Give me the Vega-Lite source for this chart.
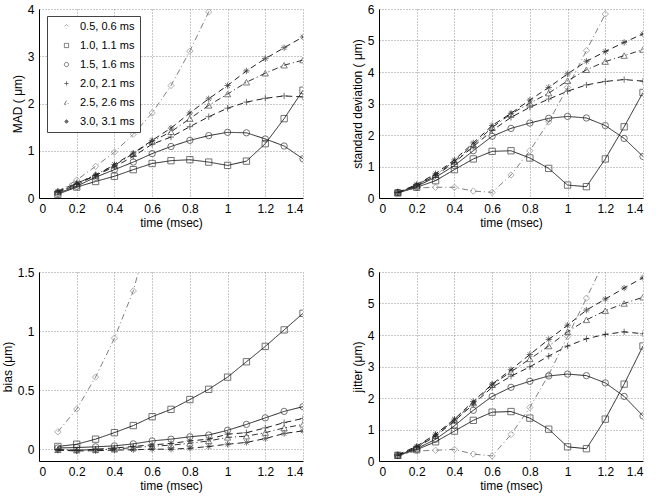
{
  "$schema": "https://vega.github.io/schema/vega-lite/v6.json",
  "background": "white",
  "padding": {"left": 1, "top": 3, "right": 5, "bottom": 5},
  "columns": 2,
  "spacing": {"row": 74, "column": 76},
  "bounds": "flush",
  "resolve": {"legend": {"color": "independent", "shape": "independent", "strokeDash": "independent"}},
  "config": {
    "font": "Liberation Sans",
    "view": {"stroke": null},
    "axis": {
      "labelFont": "Liberation Sans", "titleFont": "Liberation Sans",
      "labelFontSize": 12, "titleFontSize": 12, "titleFontWeight": "normal",
      "labelColor": "#000", "titleColor": "#000",
      "domainColor": "#000", "domainWidth": 1,
      "gridColor": "#777", "gridDash": [1, 2], "gridOpacity": 1, "gridWidth": 0.8,
      "ticks": false, "tickSize": 0, "labelPadding": 5, "titlePadding": 3
    }
  },
  "datasets": {
    "d": [
      {"p":"MAD","s":"0.5, 0.6 ms","t":0.1,"v":0.14},{"p":"MAD","s":"0.5, 0.6 ms","t":0.2,"v":0.38},{"p":"MAD","s":"0.5, 0.6 ms","t":0.3,"v":0.67},{"p":"MAD","s":"0.5, 0.6 ms","t":0.4,"v":0.97},{"p":"MAD","s":"0.5, 0.6 ms","t":0.5,"v":1.35},{"p":"MAD","s":"0.5, 0.6 ms","t":0.6,"v":1.80},{"p":"MAD","s":"0.5, 0.6 ms","t":0.7,"v":2.38},{"p":"MAD","s":"0.5, 0.6 ms","t":0.8,"v":3.11},{"p":"MAD","s":"0.5, 0.6 ms","t":0.9,"v":3.94},{"p":"MAD","s":"0.5, 0.6 ms","t":1.0,"v":4.9},
      {"p":"MAD","s":"1.0, 1.1 ms","t":0.1,"v":0.08},{"p":"MAD","s":"1.0, 1.1 ms","t":0.2,"v":0.23},{"p":"MAD","s":"1.0, 1.1 ms","t":0.3,"v":0.35},{"p":"MAD","s":"1.0, 1.1 ms","t":0.4,"v":0.46},{"p":"MAD","s":"1.0, 1.1 ms","t":0.5,"v":0.60},{"p":"MAD","s":"1.0, 1.1 ms","t":0.6,"v":0.73},{"p":"MAD","s":"1.0, 1.1 ms","t":0.7,"v":0.79},{"p":"MAD","s":"1.0, 1.1 ms","t":0.8,"v":0.81},{"p":"MAD","s":"1.0, 1.1 ms","t":0.9,"v":0.76},{"p":"MAD","s":"1.0, 1.1 ms","t":1.0,"v":0.69},{"p":"MAD","s":"1.0, 1.1 ms","t":1.1,"v":0.78},{"p":"MAD","s":"1.0, 1.1 ms","t":1.2,"v":1.15},{"p":"MAD","s":"1.0, 1.1 ms","t":1.3,"v":1.68},{"p":"MAD","s":"1.0, 1.1 ms","t":1.4,"v":2.28},
      {"p":"MAD","s":"1.5, 1.6 ms","t":0.1,"v":0.10},{"p":"MAD","s":"1.5, 1.6 ms","t":0.2,"v":0.25},{"p":"MAD","s":"1.5, 1.6 ms","t":0.3,"v":0.44},{"p":"MAD","s":"1.5, 1.6 ms","t":0.4,"v":0.60},{"p":"MAD","s":"1.5, 1.6 ms","t":0.5,"v":0.76},{"p":"MAD","s":"1.5, 1.6 ms","t":0.6,"v":0.94},{"p":"MAD","s":"1.5, 1.6 ms","t":0.7,"v":1.09},{"p":"MAD","s":"1.5, 1.6 ms","t":0.8,"v":1.22},{"p":"MAD","s":"1.5, 1.6 ms","t":0.9,"v":1.32},{"p":"MAD","s":"1.5, 1.6 ms","t":1.0,"v":1.39},{"p":"MAD","s":"1.5, 1.6 ms","t":1.1,"v":1.38},{"p":"MAD","s":"1.5, 1.6 ms","t":1.2,"v":1.25},{"p":"MAD","s":"1.5, 1.6 ms","t":1.3,"v":1.10},{"p":"MAD","s":"1.5, 1.6 ms","t":1.4,"v":0.83},
      {"p":"MAD","s":"2.0, 2.1 ms","t":0.1,"v":0.12},{"p":"MAD","s":"2.0, 2.1 ms","t":0.2,"v":0.28},{"p":"MAD","s":"2.0, 2.1 ms","t":0.3,"v":0.48},{"p":"MAD","s":"2.0, 2.1 ms","t":0.4,"v":0.66},{"p":"MAD","s":"2.0, 2.1 ms","t":0.5,"v":0.88},{"p":"MAD","s":"2.0, 2.1 ms","t":0.6,"v":1.14},{"p":"MAD","s":"2.0, 2.1 ms","t":0.7,"v":1.29},{"p":"MAD","s":"2.0, 2.1 ms","t":0.8,"v":1.51},{"p":"MAD","s":"2.0, 2.1 ms","t":0.9,"v":1.72},{"p":"MAD","s":"2.0, 2.1 ms","t":1.0,"v":1.90},{"p":"MAD","s":"2.0, 2.1 ms","t":1.1,"v":2.03},{"p":"MAD","s":"2.0, 2.1 ms","t":1.2,"v":2.11},{"p":"MAD","s":"2.0, 2.1 ms","t":1.3,"v":2.16},{"p":"MAD","s":"2.0, 2.1 ms","t":1.4,"v":2.14},
      {"p":"MAD","s":"2.5, 2.6 ms","t":0.1,"v":0.13},{"p":"MAD","s":"2.5, 2.6 ms","t":0.2,"v":0.30},{"p":"MAD","s":"2.5, 2.6 ms","t":0.3,"v":0.50},{"p":"MAD","s":"2.5, 2.6 ms","t":0.4,"v":0.69},{"p":"MAD","s":"2.5, 2.6 ms","t":0.5,"v":0.94},{"p":"MAD","s":"2.5, 2.6 ms","t":0.6,"v":1.20},{"p":"MAD","s":"2.5, 2.6 ms","t":0.7,"v":1.40},{"p":"MAD","s":"2.5, 2.6 ms","t":0.8,"v":1.68},{"p":"MAD","s":"2.5, 2.6 ms","t":0.9,"v":1.96},{"p":"MAD","s":"2.5, 2.6 ms","t":1.0,"v":2.20},{"p":"MAD","s":"2.5, 2.6 ms","t":1.1,"v":2.45},{"p":"MAD","s":"2.5, 2.6 ms","t":1.2,"v":2.64},{"p":"MAD","s":"2.5, 2.6 ms","t":1.3,"v":2.81},{"p":"MAD","s":"2.5, 2.6 ms","t":1.4,"v":2.92},
      {"p":"MAD","s":"3.0, 3.1 ms","t":0.1,"v":0.14},{"p":"MAD","s":"3.0, 3.1 ms","t":0.2,"v":0.32},{"p":"MAD","s":"3.0, 3.1 ms","t":0.3,"v":0.47},{"p":"MAD","s":"3.0, 3.1 ms","t":0.4,"v":0.71},{"p":"MAD","s":"3.0, 3.1 ms","t":0.5,"v":0.95},{"p":"MAD","s":"3.0, 3.1 ms","t":0.6,"v":1.22},{"p":"MAD","s":"3.0, 3.1 ms","t":0.7,"v":1.48},{"p":"MAD","s":"3.0, 3.1 ms","t":0.8,"v":1.80},{"p":"MAD","s":"3.0, 3.1 ms","t":0.9,"v":2.10},{"p":"MAD","s":"3.0, 3.1 ms","t":1.0,"v":2.38},{"p":"MAD","s":"3.0, 3.1 ms","t":1.1,"v":2.69},{"p":"MAD","s":"3.0, 3.1 ms","t":1.2,"v":2.95},{"p":"MAD","s":"3.0, 3.1 ms","t":1.3,"v":3.18},{"p":"MAD","s":"3.0, 3.1 ms","t":1.4,"v":3.41},

      {"p":"SD","s":"0.5, 0.6 ms","t":0.1,"v":0.18},{"p":"SD","s":"0.5, 0.6 ms","t":0.2,"v":0.32},{"p":"SD","s":"0.5, 0.6 ms","t":0.3,"v":0.34},{"p":"SD","s":"0.5, 0.6 ms","t":0.4,"v":0.34},{"p":"SD","s":"0.5, 0.6 ms","t":0.5,"v":0.22},{"p":"SD","s":"0.5, 0.6 ms","t":0.6,"v":0.18},{"p":"SD","s":"0.5, 0.6 ms","t":0.7,"v":0.73},{"p":"SD","s":"0.5, 0.6 ms","t":0.8,"v":1.50},{"p":"SD","s":"0.5, 0.6 ms","t":0.9,"v":2.42},{"p":"SD","s":"0.5, 0.6 ms","t":1.0,"v":3.51},{"p":"SD","s":"0.5, 0.6 ms","t":1.1,"v":4.68},{"p":"SD","s":"0.5, 0.6 ms","t":1.2,"v":5.84},
      {"p":"SD","s":"1.0, 1.1 ms","t":0.1,"v":0.16},{"p":"SD","s":"1.0, 1.1 ms","t":0.2,"v":0.34},{"p":"SD","s":"1.0, 1.1 ms","t":0.3,"v":0.55},{"p":"SD","s":"1.0, 1.1 ms","t":0.4,"v":0.90},{"p":"SD","s":"1.0, 1.1 ms","t":0.5,"v":1.24},{"p":"SD","s":"1.0, 1.1 ms","t":0.6,"v":1.48},{"p":"SD","s":"1.0, 1.1 ms","t":0.7,"v":1.50},{"p":"SD","s":"1.0, 1.1 ms","t":0.8,"v":1.27},{"p":"SD","s":"1.0, 1.1 ms","t":0.9,"v":0.94},{"p":"SD","s":"1.0, 1.1 ms","t":1.0,"v":0.41},{"p":"SD","s":"1.0, 1.1 ms","t":1.1,"v":0.36},{"p":"SD","s":"1.0, 1.1 ms","t":1.2,"v":1.24},{"p":"SD","s":"1.0, 1.1 ms","t":1.3,"v":2.26},{"p":"SD","s":"1.0, 1.1 ms","t":1.4,"v":3.35},
      {"p":"SD","s":"1.5, 1.6 ms","t":0.1,"v":0.18},{"p":"SD","s":"1.5, 1.6 ms","t":0.2,"v":0.37},{"p":"SD","s":"1.5, 1.6 ms","t":0.3,"v":0.66},{"p":"SD","s":"1.5, 1.6 ms","t":0.4,"v":1.03},{"p":"SD","s":"1.5, 1.6 ms","t":0.5,"v":1.50},{"p":"SD","s":"1.5, 1.6 ms","t":0.6,"v":1.96},{"p":"SD","s":"1.5, 1.6 ms","t":0.7,"v":2.21},{"p":"SD","s":"1.5, 1.6 ms","t":0.8,"v":2.38},{"p":"SD","s":"1.5, 1.6 ms","t":0.9,"v":2.53},{"p":"SD","s":"1.5, 1.6 ms","t":1.0,"v":2.59},{"p":"SD","s":"1.5, 1.6 ms","t":1.1,"v":2.54},{"p":"SD","s":"1.5, 1.6 ms","t":1.2,"v":2.30},{"p":"SD","s":"1.5, 1.6 ms","t":1.3,"v":1.89},{"p":"SD","s":"1.5, 1.6 ms","t":1.4,"v":1.32},
      {"p":"SD","s":"2.0, 2.1 ms","t":0.1,"v":0.18},{"p":"SD","s":"2.0, 2.1 ms","t":0.2,"v":0.39},{"p":"SD","s":"2.0, 2.1 ms","t":0.3,"v":0.71},{"p":"SD","s":"2.0, 2.1 ms","t":0.4,"v":1.13},{"p":"SD","s":"2.0, 2.1 ms","t":0.5,"v":1.63},{"p":"SD","s":"2.0, 2.1 ms","t":0.6,"v":2.14},{"p":"SD","s":"2.0, 2.1 ms","t":0.7,"v":2.56},{"p":"SD","s":"2.0, 2.1 ms","t":0.8,"v":2.88},{"p":"SD","s":"2.0, 2.1 ms","t":0.9,"v":3.14},{"p":"SD","s":"2.0, 2.1 ms","t":1.0,"v":3.39},{"p":"SD","s":"2.0, 2.1 ms","t":1.1,"v":3.59},{"p":"SD","s":"2.0, 2.1 ms","t":1.2,"v":3.70},{"p":"SD","s":"2.0, 2.1 ms","t":1.3,"v":3.76},{"p":"SD","s":"2.0, 2.1 ms","t":1.4,"v":3.71},
      {"p":"SD","s":"2.5, 2.6 ms","t":0.1,"v":0.17},{"p":"SD","s":"2.5, 2.6 ms","t":0.2,"v":0.41},{"p":"SD","s":"2.5, 2.6 ms","t":0.3,"v":0.74},{"p":"SD","s":"2.5, 2.6 ms","t":0.4,"v":1.16},{"p":"SD","s":"2.5, 2.6 ms","t":0.5,"v":1.69},{"p":"SD","s":"2.5, 2.6 ms","t":0.6,"v":2.24},{"p":"SD","s":"2.5, 2.6 ms","t":0.7,"v":2.67},{"p":"SD","s":"2.5, 2.6 ms","t":0.8,"v":3.01},{"p":"SD","s":"2.5, 2.6 ms","t":0.9,"v":3.33},{"p":"SD","s":"2.5, 2.6 ms","t":1.0,"v":3.72},{"p":"SD","s":"2.5, 2.6 ms","t":1.1,"v":4.07},{"p":"SD","s":"2.5, 2.6 ms","t":1.2,"v":4.33},{"p":"SD","s":"2.5, 2.6 ms","t":1.3,"v":4.52},{"p":"SD","s":"2.5, 2.6 ms","t":1.4,"v":4.71},
      {"p":"SD","s":"3.0, 3.1 ms","t":0.1,"v":0.18},{"p":"SD","s":"3.0, 3.1 ms","t":0.2,"v":0.43},{"p":"SD","s":"3.0, 3.1 ms","t":0.3,"v":0.77},{"p":"SD","s":"3.0, 3.1 ms","t":0.4,"v":1.21},{"p":"SD","s":"3.0, 3.1 ms","t":0.5,"v":1.75},{"p":"SD","s":"3.0, 3.1 ms","t":0.6,"v":2.30},{"p":"SD","s":"3.0, 3.1 ms","t":0.7,"v":2.69},{"p":"SD","s":"3.0, 3.1 ms","t":0.8,"v":3.11},{"p":"SD","s":"3.0, 3.1 ms","t":0.9,"v":3.51},{"p":"SD","s":"3.0, 3.1 ms","t":1.0,"v":3.94},{"p":"SD","s":"3.0, 3.1 ms","t":1.1,"v":4.34},{"p":"SD","s":"3.0, 3.1 ms","t":1.2,"v":4.65},{"p":"SD","s":"3.0, 3.1 ms","t":1.3,"v":4.94},{"p":"SD","s":"3.0, 3.1 ms","t":1.4,"v":5.21},

      {"p":"bias","s":"0.5, 0.6 ms","t":0.1,"v":0.147},{"p":"bias","s":"0.5, 0.6 ms","t":0.2,"v":0.34},{"p":"bias","s":"0.5, 0.6 ms","t":0.3,"v":0.61},{"p":"bias","s":"0.5, 0.6 ms","t":0.4,"v":0.94},{"p":"bias","s":"0.5, 0.6 ms","t":0.5,"v":1.34},{"p":"bias","s":"0.5, 0.6 ms","t":0.6,"v":1.93},
      {"p":"bias","s":"1.0, 1.1 ms","t":0.1,"v":0.023},{"p":"bias","s":"1.0, 1.1 ms","t":0.2,"v":0.042},{"p":"bias","s":"1.0, 1.1 ms","t":0.3,"v":0.085},{"p":"bias","s":"1.0, 1.1 ms","t":0.4,"v":0.14},{"p":"bias","s":"1.0, 1.1 ms","t":0.5,"v":0.20},{"p":"bias","s":"1.0, 1.1 ms","t":0.6,"v":0.275},{"p":"bias","s":"1.0, 1.1 ms","t":0.7,"v":0.337},{"p":"bias","s":"1.0, 1.1 ms","t":0.8,"v":0.42},{"p":"bias","s":"1.0, 1.1 ms","t":0.9,"v":0.507},{"p":"bias","s":"1.0, 1.1 ms","t":1.0,"v":0.61},{"p":"bias","s":"1.0, 1.1 ms","t":1.1,"v":0.74},{"p":"bias","s":"1.0, 1.1 ms","t":1.2,"v":0.87},{"p":"bias","s":"1.0, 1.1 ms","t":1.3,"v":1.01},{"p":"bias","s":"1.0, 1.1 ms","t":1.4,"v":1.15},
      {"p":"bias","s":"1.5, 1.6 ms","t":0.1,"v":0.01},{"p":"bias","s":"1.5, 1.6 ms","t":0.2,"v":0.014},{"p":"bias","s":"1.5, 1.6 ms","t":0.3,"v":0.02},{"p":"bias","s":"1.5, 1.6 ms","t":0.4,"v":0.028},{"p":"bias","s":"1.5, 1.6 ms","t":0.5,"v":0.045},{"p":"bias","s":"1.5, 1.6 ms","t":0.6,"v":0.07},{"p":"bias","s":"1.5, 1.6 ms","t":0.7,"v":0.085},{"p":"bias","s":"1.5, 1.6 ms","t":0.8,"v":0.105},{"p":"bias","s":"1.5, 1.6 ms","t":0.9,"v":0.12},{"p":"bias","s":"1.5, 1.6 ms","t":1.0,"v":0.16},{"p":"bias","s":"1.5, 1.6 ms","t":1.1,"v":0.21},{"p":"bias","s":"1.5, 1.6 ms","t":1.2,"v":0.265},{"p":"bias","s":"1.5, 1.6 ms","t":1.3,"v":0.32},{"p":"bias","s":"1.5, 1.6 ms","t":1.4,"v":0.36},
      {"p":"bias","s":"2.0, 2.1 ms","t":0.1,"v":-0.005},{"p":"bias","s":"2.0, 2.1 ms","t":0.2,"v":-0.01},{"p":"bias","s":"2.0, 2.1 ms","t":0.3,"v":0.0},{"p":"bias","s":"2.0, 2.1 ms","t":0.4,"v":0.01},{"p":"bias","s":"2.0, 2.1 ms","t":0.5,"v":0.023},{"p":"bias","s":"2.0, 2.1 ms","t":0.6,"v":0.037},{"p":"bias","s":"2.0, 2.1 ms","t":0.7,"v":0.048},{"p":"bias","s":"2.0, 2.1 ms","t":0.8,"v":0.07},{"p":"bias","s":"2.0, 2.1 ms","t":0.9,"v":0.085},{"p":"bias","s":"2.0, 2.1 ms","t":1.0,"v":0.127},{"p":"bias","s":"2.0, 2.1 ms","t":1.1,"v":0.14},{"p":"bias","s":"2.0, 2.1 ms","t":1.2,"v":0.18},{"p":"bias","s":"2.0, 2.1 ms","t":1.3,"v":0.225},{"p":"bias","s":"2.0, 2.1 ms","t":1.4,"v":0.26},
      {"p":"bias","s":"2.5, 2.6 ms","t":0.1,"v":-0.005},{"p":"bias","s":"2.5, 2.6 ms","t":0.2,"v":-0.008},{"p":"bias","s":"2.5, 2.6 ms","t":0.3,"v":-0.005},{"p":"bias","s":"2.5, 2.6 ms","t":0.4,"v":0.0},{"p":"bias","s":"2.5, 2.6 ms","t":0.5,"v":0.014},{"p":"bias","s":"2.5, 2.6 ms","t":0.6,"v":0.025},{"p":"bias","s":"2.5, 2.6 ms","t":0.7,"v":0.034},{"p":"bias","s":"2.5, 2.6 ms","t":0.8,"v":0.05},{"p":"bias","s":"2.5, 2.6 ms","t":0.9,"v":0.07},{"p":"bias","s":"2.5, 2.6 ms","t":1.0,"v":0.10},{"p":"bias","s":"2.5, 2.6 ms","t":1.1,"v":0.11},{"p":"bias","s":"2.5, 2.6 ms","t":1.2,"v":0.14},{"p":"bias","s":"2.5, 2.6 ms","t":1.3,"v":0.18},{"p":"bias","s":"2.5, 2.6 ms","t":1.4,"v":0.21},
      {"p":"bias","s":"3.0, 3.1 ms","t":0.1,"v":-0.008},{"p":"bias","s":"3.0, 3.1 ms","t":0.2,"v":-0.015},{"p":"bias","s":"3.0, 3.1 ms","t":0.3,"v":-0.013},{"p":"bias","s":"3.0, 3.1 ms","t":0.4,"v":-0.008},{"p":"bias","s":"3.0, 3.1 ms","t":0.5,"v":-0.005},{"p":"bias","s":"3.0, 3.1 ms","t":0.6,"v":0.0},{"p":"bias","s":"3.0, 3.1 ms","t":0.7,"v":0.0},{"p":"bias","s":"3.0, 3.1 ms","t":0.8,"v":0.008},{"p":"bias","s":"3.0, 3.1 ms","t":0.9,"v":0.023},{"p":"bias","s":"3.0, 3.1 ms","t":1.0,"v":0.042},{"p":"bias","s":"3.0, 3.1 ms","t":1.1,"v":0.057},{"p":"bias","s":"3.0, 3.1 ms","t":1.2,"v":0.09},{"p":"bias","s":"3.0, 3.1 ms","t":1.3,"v":0.133},{"p":"bias","s":"3.0, 3.1 ms","t":1.4,"v":0.155},

      {"p":"jitter","s":"0.5, 0.6 ms","t":0.1,"v":0.16},{"p":"jitter","s":"0.5, 0.6 ms","t":0.2,"v":0.32},{"p":"jitter","s":"0.5, 0.6 ms","t":0.3,"v":0.34},{"p":"jitter","s":"0.5, 0.6 ms","t":0.4,"v":0.37},{"p":"jitter","s":"0.5, 0.6 ms","t":0.5,"v":0.22},{"p":"jitter","s":"0.5, 0.6 ms","t":0.6,"v":0.16},{"p":"jitter","s":"0.5, 0.6 ms","t":0.7,"v":0.84},{"p":"jitter","s":"0.5, 0.6 ms","t":0.8,"v":1.70},{"p":"jitter","s":"0.5, 0.6 ms","t":0.9,"v":2.74},{"p":"jitter","s":"0.5, 0.6 ms","t":1.0,"v":3.95},{"p":"jitter","s":"0.5, 0.6 ms","t":1.1,"v":5.17},{"p":"jitter","s":"0.5, 0.6 ms","t":1.2,"v":6.4},
      {"p":"jitter","s":"1.0, 1.1 ms","t":0.1,"v":0.18},{"p":"jitter","s":"1.0, 1.1 ms","t":0.2,"v":0.36},{"p":"jitter","s":"1.0, 1.1 ms","t":0.3,"v":0.61},{"p":"jitter","s":"1.0, 1.1 ms","t":0.4,"v":0.95},{"p":"jitter","s":"1.0, 1.1 ms","t":0.5,"v":1.29},{"p":"jitter","s":"1.0, 1.1 ms","t":0.6,"v":1.55},{"p":"jitter","s":"1.0, 1.1 ms","t":0.7,"v":1.57},{"p":"jitter","s":"1.0, 1.1 ms","t":0.8,"v":1.36},{"p":"jitter","s":"1.0, 1.1 ms","t":0.9,"v":1.01},{"p":"jitter","s":"1.0, 1.1 ms","t":1.0,"v":0.45},{"p":"jitter","s":"1.0, 1.1 ms","t":1.1,"v":0.39},{"p":"jitter","s":"1.0, 1.1 ms","t":1.2,"v":1.33},{"p":"jitter","s":"1.0, 1.1 ms","t":1.3,"v":2.44},{"p":"jitter","s":"1.0, 1.1 ms","t":1.4,"v":3.65},
      {"p":"jitter","s":"1.5, 1.6 ms","t":0.1,"v":0.18},{"p":"jitter","s":"1.5, 1.6 ms","t":0.2,"v":0.39},{"p":"jitter","s":"1.5, 1.6 ms","t":0.3,"v":0.69},{"p":"jitter","s":"1.5, 1.6 ms","t":0.4,"v":1.12},{"p":"jitter","s":"1.5, 1.6 ms","t":0.5,"v":1.61},{"p":"jitter","s":"1.5, 1.6 ms","t":0.6,"v":2.05},{"p":"jitter","s":"1.5, 1.6 ms","t":0.7,"v":2.34},{"p":"jitter","s":"1.5, 1.6 ms","t":0.8,"v":2.53},{"p":"jitter","s":"1.5, 1.6 ms","t":0.9,"v":2.70},{"p":"jitter","s":"1.5, 1.6 ms","t":1.0,"v":2.76},{"p":"jitter","s":"1.5, 1.6 ms","t":1.1,"v":2.71},{"p":"jitter","s":"1.5, 1.6 ms","t":1.2,"v":2.48},{"p":"jitter","s":"1.5, 1.6 ms","t":1.3,"v":2.05},{"p":"jitter","s":"1.5, 1.6 ms","t":1.4,"v":1.43},
      {"p":"jitter","s":"2.0, 2.1 ms","t":0.1,"v":0.18},{"p":"jitter","s":"2.0, 2.1 ms","t":0.2,"v":0.43},{"p":"jitter","s":"2.0, 2.1 ms","t":0.3,"v":0.79},{"p":"jitter","s":"2.0, 2.1 ms","t":0.4,"v":1.27},{"p":"jitter","s":"2.0, 2.1 ms","t":0.5,"v":1.80},{"p":"jitter","s":"2.0, 2.1 ms","t":0.6,"v":2.34},{"p":"jitter","s":"2.0, 2.1 ms","t":0.7,"v":2.69},{"p":"jitter","s":"2.0, 2.1 ms","t":0.8,"v":2.99},{"p":"jitter","s":"2.0, 2.1 ms","t":0.9,"v":3.33},{"p":"jitter","s":"2.0, 2.1 ms","t":1.0,"v":3.65},{"p":"jitter","s":"2.0, 2.1 ms","t":1.1,"v":3.88},{"p":"jitter","s":"2.0, 2.1 ms","t":1.2,"v":4.02},{"p":"jitter","s":"2.0, 2.1 ms","t":1.3,"v":4.10},{"p":"jitter","s":"2.0, 2.1 ms","t":1.4,"v":4.04},
      {"p":"jitter","s":"2.5, 2.6 ms","t":0.1,"v":0.17},{"p":"jitter","s":"2.5, 2.6 ms","t":0.2,"v":0.45},{"p":"jitter","s":"2.5, 2.6 ms","t":0.3,"v":0.82},{"p":"jitter","s":"2.5, 2.6 ms","t":0.4,"v":1.30},{"p":"jitter","s":"2.5, 2.6 ms","t":0.5,"v":1.84},{"p":"jitter","s":"2.5, 2.6 ms","t":0.6,"v":2.42},{"p":"jitter","s":"2.5, 2.6 ms","t":0.7,"v":2.83},{"p":"jitter","s":"2.5, 2.6 ms","t":0.8,"v":3.24},{"p":"jitter","s":"2.5, 2.6 ms","t":0.9,"v":3.65},{"p":"jitter","s":"2.5, 2.6 ms","t":1.0,"v":4.10},{"p":"jitter","s":"2.5, 2.6 ms","t":1.1,"v":4.48},{"p":"jitter","s":"2.5, 2.6 ms","t":1.2,"v":4.77},{"p":"jitter","s":"2.5, 2.6 ms","t":1.3,"v":5.00},{"p":"jitter","s":"2.5, 2.6 ms","t":1.4,"v":5.20},
      {"p":"jitter","s":"3.0, 3.1 ms","t":0.1,"v":0.20},{"p":"jitter","s":"3.0, 3.1 ms","t":0.2,"v":0.47},{"p":"jitter","s":"3.0, 3.1 ms","t":0.3,"v":0.85},{"p":"jitter","s":"3.0, 3.1 ms","t":0.4,"v":1.33},{"p":"jitter","s":"3.0, 3.1 ms","t":0.5,"v":1.89},{"p":"jitter","s":"3.0, 3.1 ms","t":0.6,"v":2.44},{"p":"jitter","s":"3.0, 3.1 ms","t":0.7,"v":2.90},{"p":"jitter","s":"3.0, 3.1 ms","t":0.8,"v":3.38},{"p":"jitter","s":"3.0, 3.1 ms","t":0.9,"v":3.86},{"p":"jitter","s":"3.0, 3.1 ms","t":1.0,"v":4.31},{"p":"jitter","s":"3.0, 3.1 ms","t":1.1,"v":4.79},{"p":"jitter","s":"3.0, 3.1 ms","t":1.2,"v":5.14},{"p":"jitter","s":"3.0, 3.1 ms","t":1.3,"v":5.49},{"p":"jitter","s":"3.0, 3.1 ms","t":1.4,"v":5.82}
    ]
  },
  "concat": [
    {
      "width": 264, "height": 189,
      "data": {"name": "d"},
      "transform": [{"filter": "datum.p == 'MAD'"}],
      "encoding": {
        "x": {"field": "t", "type": "quantitative", "scale": {"domain": [0, 1.4], "nice": false, "zero": false}, "axis": {"values": [0, 0.2, 0.4, 0.6, 0.8, 1, 1.2, 1.4], "format": "~g", "title": "time (msec)"}},
        "y": {"field": "v", "type": "quantitative", "scale": {"domain": [0, 4], "nice": false, "zero": false}, "axis": {"values": [0, 1, 2, 3, 4], "format": "~g", "title": "MAD ( μm)"}}
      },
      "layer": [
        {"mark": {"type": "line", "clip": true, "strokeWidth": 1},
         "encoding": {
           "color": {"field": "s", "type": "nominal", "scale": {"domain": ["0.5, 0.6 ms", "1.0, 1.1 ms", "1.5, 1.6 ms", "2.0, 2.1 ms", "2.5, 2.6 ms", "3.0, 3.1 ms"], "range": ["#808080", "#222222", "#222222", "#222222", "#333333", "#222222"]}, "legend": {"orient": "none", "legendX": 8, "legendY": 7, "title": null, "strokeColor": "#444", "fillColor": "white", "padding": 5, "symbolOffset": 9, "labelOffset": 8, "labelFontSize": 11, "labelFont": "Liberation Sans", "labelColor": "#000", "rowPadding": 7, "symbolSize": 18, "symbolStrokeWidth": 0.9, "symbolFillColor": "transparent", "symbolDash": [1, 0]}},
           "strokeDash": {"field": "s", "type": "nominal", "scale": {"domain": ["0.5, 0.6 ms", "1.0, 1.1 ms", "1.5, 1.6 ms", "2.0, 2.1 ms", "2.5, 2.6 ms", "3.0, 3.1 ms"], "range": [[6, 3, 1, 3], [1, 0], [1, 0], [6, 4], [6, 3, 1, 3], [6, 4]]}, "legend": null}
         }},
        {"mark": {"type": "point", "clip": true, "filled": false, "strokeWidth": 0.9, "size": 40},
         "encoding": {
           "color": {"field": "s", "type": "nominal", "legend": {"orient": "none", "legendX": 8, "legendY": 7, "title": null, "strokeColor": "#444", "fillColor": "white", "padding": 5, "symbolOffset": 9, "labelOffset": 8, "labelFontSize": 11, "labelFont": "Liberation Sans", "labelColor": "#000", "rowPadding": 7, "symbolSize": 18, "symbolStrokeWidth": 0.9, "symbolFillColor": "transparent", "symbolDash": [1, 0]}},
           "shape": {"field": "s", "type": "nominal", "scale": {"domain": ["0.5, 0.6 ms", "1.0, 1.1 ms", "1.5, 1.6 ms", "2.0, 2.1 ms", "2.5, 2.6 ms", "3.0, 3.1 ms"], "range": ["diamond", "square", "circle", "M-1,0L1,0M0,-1L0,1", "triangle-up", "M-1,0L1,0M0,-1L0,1M-0.7,-0.7L0.7,0.7M-0.7,0.7L0.7,-0.7"]}, "legend": {"orient": "none", "legendX": 8, "legendY": 7, "title": null, "strokeColor": "#444", "fillColor": "white", "padding": 5, "symbolOffset": 9, "labelOffset": 8, "labelFontSize": 11, "labelFont": "Liberation Sans", "labelColor": "#000", "rowPadding": 7, "symbolSize": 18, "symbolStrokeWidth": 0.9, "symbolFillColor": "transparent", "symbolDash": [1, 0]}}
         }}
      ]
    },
    {
      "width": 264, "height": 189,
      "data": {"name": "d"},
      "transform": [{"filter": "datum.p == 'SD'"}],
      "encoding": {
        "x": {"field": "t", "type": "quantitative", "scale": {"domain": [0, 1.4], "nice": false, "zero": false}, "axis": {"values": [0, 0.2, 0.4, 0.6, 0.8, 1, 1.2, 1.4], "format": "~g", "title": "time (msec)"}},
        "y": {"field": "v", "type": "quantitative", "scale": {"domain": [0, 6], "nice": false, "zero": false}, "axis": {"values": [0, 1, 2, 3, 4, 5, 6], "format": "~g", "title": "standard deviation ( μm)"}}
      },
      "layer": [
        {"mark": {"type": "line", "clip": true, "strokeWidth": 1},
         "encoding": {
           "color": {"field": "s", "type": "nominal", "legend": null},
           "strokeDash": {"field": "s", "type": "nominal", "legend": null}
         }},
        {"mark": {"type": "point", "clip": true, "filled": false, "strokeWidth": 0.9, "size": 40},
         "encoding": {
           "color": {"field": "s", "type": "nominal", "legend": null},
           "shape": {"field": "s", "type": "nominal", "legend": null}
         }}
      ]
    },
    {
      "width": 264, "height": 189,
      "data": {"name": "d"},
      "transform": [{"filter": "datum.p == 'bias'"}],
      "encoding": {
        "x": {"field": "t", "type": "quantitative", "scale": {"domain": [0, 1.4], "nice": false, "zero": false}, "axis": {"values": [0, 0.2, 0.4, 0.6, 0.8, 1, 1.2, 1.4], "format": "~g", "title": "time (msec)"}},
        "y": {"field": "v", "type": "quantitative", "scale": {"domain": [-0.1, 1.5], "nice": false, "zero": false}, "axis": {"values": [0, 0.5, 1, 1.5], "format": "~g", "title": "bias (μm)"}}
      },
      "layer": [
        {"mark": {"type": "line", "clip": true, "strokeWidth": 1},
         "encoding": {
           "color": {"field": "s", "type": "nominal", "legend": null},
           "strokeDash": {"field": "s", "type": "nominal", "legend": null}
         }},
        {"mark": {"type": "point", "clip": true, "filled": false, "strokeWidth": 0.9, "size": 40},
         "encoding": {
           "color": {"field": "s", "type": "nominal", "legend": null},
           "shape": {"field": "s", "type": "nominal", "legend": null}
         }}
      ]
    },
    {
      "width": 264, "height": 189,
      "data": {"name": "d"},
      "transform": [{"filter": "datum.p == 'jitter'"}],
      "encoding": {
        "x": {"field": "t", "type": "quantitative", "scale": {"domain": [0, 1.4], "nice": false, "zero": false}, "axis": {"values": [0, 0.2, 0.4, 0.6, 0.8, 1, 1.2, 1.4], "format": "~g", "title": "time (msec)"}},
        "y": {"field": "v", "type": "quantitative", "scale": {"domain": [0, 6], "nice": false, "zero": false}, "axis": {"values": [0, 1, 2, 3, 4, 5, 6], "format": "~g", "title": "jitter (μm)"}}
      },
      "layer": [
        {"mark": {"type": "line", "clip": true, "strokeWidth": 1},
         "encoding": {
           "color": {"field": "s", "type": "nominal", "legend": null},
           "strokeDash": {"field": "s", "type": "nominal", "legend": null}
         }},
        {"mark": {"type": "point", "clip": true, "filled": false, "strokeWidth": 0.9, "size": 40},
         "encoding": {
           "color": {"field": "s", "type": "nominal", "legend": null},
           "shape": {"field": "s", "type": "nominal", "legend": null}
         }}
      ]
    }
  ]
}
